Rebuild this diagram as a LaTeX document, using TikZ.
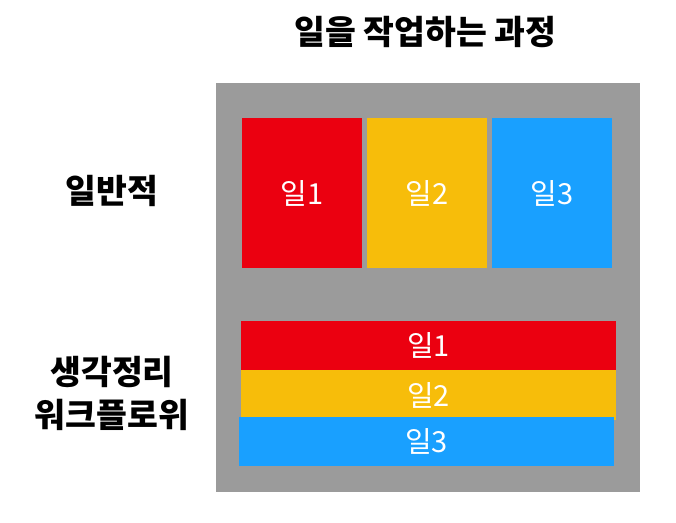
\documentclass[tikz,border=0pt]{standalone}
\usepackage{fontspec}
\newfontfamily\kr{Noto Sans CJK KR}
\usepackage{tikz}

\begin{document}
\begin{tikzpicture}[x=1pt,y=-1pt]
\tikzstyle{blk}=[rectangle,inner sep=0pt,text=white,font=\kr\fontsize{29}{34}\selectfont]
\tikzstyle{tall}=[blk,minimum width=120pt,minimum height=150pt]
\tikzstyle{wide}=[blk,minimum width=375pt,minimum height=49.5pt]
\tikzstyle{head}=[font=\kr\bfseries\fontsize{33.5}{43}\selectfont,align=center]
\definecolor{wred}{HTML}{EB0010}
\definecolor{wyellow}{HTML}{F7BD0A}
\definecolor{wblue}{HTML}{19A0FF}
\definecolor{wgray}{HTML}{9B9B9B}
\useasboundingbox (0,0) rectangle (676,522);
\node [head] (title) at (425.5,32) {일을 작업하는 과정};
\node [rectangle,fill=wgray,minimum width=424pt,minimum height=409pt] (frame) at (428,287.5) {};
\node [tall,fill=wred] (t1) at (302,193) {일1};
\node [tall,fill=wyellow] (t2) at (427,193) {일2};
\node [tall,fill=wblue] (t3) at (552,193) {일3};
\node [wide,fill=wred] (w1) at (428.5,345.5) {일1};
\node [wide,fill=wyellow] (w2) at (428.5,395) {일2};
\node [wide,fill=wblue] (w3) at (426.5,441.5) {일3};
\node [head] (usual) at (112,191) {일반적};
\node [head] (flow) at (112,393.5) {생각정리\\워크플로위};
\end{tikzpicture}
\end{document}
